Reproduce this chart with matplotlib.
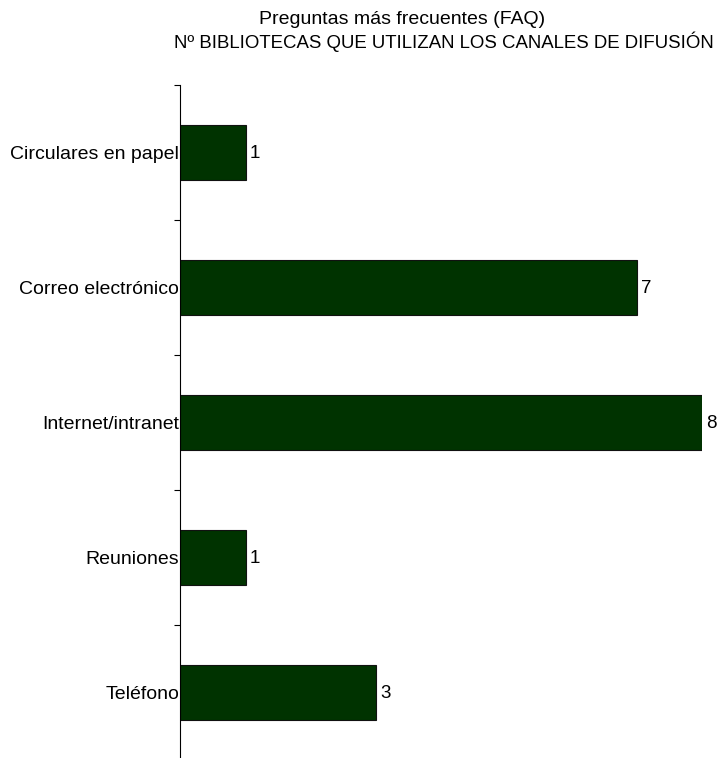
import matplotlib.pyplot as plt
import numpy as np

categorias = ['Circulares en papel', 'Correo electrónico', 'Internet/intranet',
              'Reuniones', 'Teléfono']
valores = [1, 7, 8, 1, 3]

plt.rcParams['font.family'] = ['Liberation Sans', 'DejaVu Sans']

fig = plt.figure(figsize=(7.17, 7.58), dpi=100)
ax = fig.add_axes([0.2517, -0.0026, 0.7273, 0.8905])

y = np.arange(len(categorias))
barras = ax.barh(y, valores, height=0.41, color='#003300',
                 edgecolor='#111111', linewidth=0.8)
ax.set_ylim(len(categorias) - 0.5, -0.5)
ax.set_xlim(0, 8)

for b, v in zip(barras, valores):
    ax.annotate(str(v), (b.get_width(), b.get_y() + b.get_height() / 2),
                xytext=(3, -1), textcoords='offset points',
                va='center', ha='left', fontsize=13.5, annotation_clip=False)

ax.set_yticks(y)
ax.set_yticklabels(categorias, fontsize=14)
ax.tick_params(axis='y', which='major', length=0, pad=1)
ax.set_yticks(np.arange(-0.5, len(categorias)), minor=True)
ax.tick_params(axis='y', which='minor', length=4, width=0.8, direction='out')
ax.set_xticks([])
for lado in ['top', 'right', 'bottom']:
    ax.spines[lado].set_visible(False)
ax.spines['left'].set_linewidth(0.8)

fig.text(0.561, 0.974, 'Preguntas más frecuentes (FAQ)', ha='center',
         va='center', fontsize=14)
fig.text(0.619, 0.945, 'Nº BIBLIOTECAS QUE UTILIZAN LOS CANALES DE DIFUSIÓN',
         ha='center', va='center', fontsize=13.4)

fig.savefig('out.png', dpi=100)
